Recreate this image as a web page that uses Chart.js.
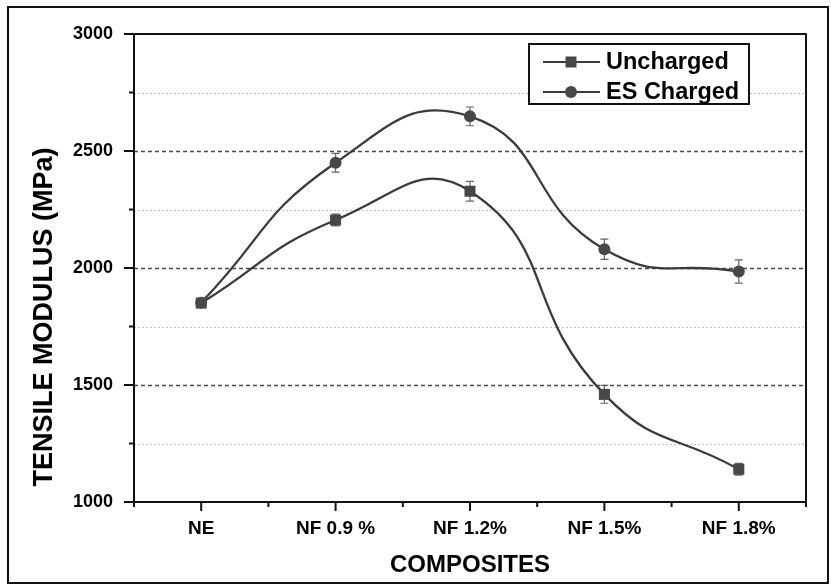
<!DOCTYPE html>
<html>
<head>
<meta charset="utf-8">
<script src="https://cdn.jsdelivr.net/npm/chart.js@4.4.0/dist/chart.umd.min.js"></script>
<style>
  html, body { margin: 0; padding: 0; background: #fff; }
  #wrap { width: 831px; height: 585px; }
</style>
</head>
<body>
<div id="wrap"><canvas id="modulusChart" width="831" height="585"></canvas></div>
<script>
// values
const categories = ['NE', 'NF 0.9 %', 'NF 1.2%', 'NF 1.5%', 'NF 1.8%'];
const unchargedValues = [1850, 2205, 2328, 1460, 1140];
const unchargedErrors = [15, 25, 42, 38, 25];
const chargedValues = [1852, 2450, 2648, 2080, 1985];
const chargedErrors = [15, 40, 40, 43, 50];
const seriesNames = ['Uncharged', 'ES Charged'];
const yMajorTicks = [1000, 1500, 2000, 2500, 3000];
const yMinorTicks = [1250, 1750, 2250, 2750];

const FONT = '"Liberation Sans", Arial, sans-serif';
const LINE_COLOR = '#3b3b3b';
const MARK_COLOR = '#474747';

function toPoints(values) {
    return values.map((v, i) => ({ x: i, y: v }));
}

function drawMarker(ctx, style, x, y) {
    ctx.fillStyle = MARK_COLOR;
    ctx.beginPath();
    if (style === 'rect') {
        ctx.rect(x - 5.5, y - 5.5, 11, 11);
    } else {
        ctx.arc(x, y, 6, 0, Math.PI * 2);
    }
    ctx.fill();
}

const decorations = {
    id: 'decorations',
    beforeDatasetsDraw(chart) {
        const { ctx, chartArea: a, scales: { x, y } } = chart;
        ctx.save();

        // minor grid: light dotted
        ctx.strokeStyle = '#c4c4c4';
        ctx.lineWidth = 1;
        ctx.setLineDash([2, 2]);
        yMinorTicks.forEach(v => {
            const py = Math.round(y.getPixelForValue(v)) + 0.5;
            ctx.beginPath();
            ctx.moveTo(a.left, py);
            ctx.lineTo(a.right, py);
            ctx.stroke();
        });

        // major grid: dark dashed
        ctx.strokeStyle = '#4a4a4a';
        ctx.lineWidth = 1.5;
        ctx.setLineDash([4, 3]);
        yMajorTicks.slice(1, -1).forEach(v => {
            const py = Math.round(y.getPixelForValue(v)) + 0.5;
            ctx.beginPath();
            ctx.moveTo(a.left, py);
            ctx.lineTo(a.right, py);
            ctx.stroke();
        });
        ctx.setLineDash([]);

        // error bars
        ctx.strokeStyle = '#666';
        ctx.lineWidth = 1.2;
        const series = [[unchargedValues, unchargedErrors], [chargedValues, chargedErrors]];
        series.forEach(([vals, errs]) => {
            vals.forEach((v, i) => {
                const px = x.getPixelForValue(i);
                const top = y.getPixelForValue(v + errs[i]);
                const bot = y.getPixelForValue(v - errs[i]);
                ctx.beginPath();
                ctx.moveTo(px, top);
                ctx.lineTo(px, bot);
                ctx.moveTo(px - 4, top);
                ctx.lineTo(px + 4, top);
                ctx.moveTo(px - 4, bot);
                ctx.lineTo(px + 4, bot);
                ctx.stroke();
            });
        });
        ctx.restore();
    },
    afterDraw(chart) {
        const { ctx, chartArea: a, scales: { x, y } } = chart;
        ctx.save();
        ctx.strokeStyle = '#111';
        ctx.lineWidth = 2;

        // plot box
        ctx.strokeRect(a.left, a.top, a.right - a.left, a.bottom - a.top);

        // y ticks (outward)
        yMajorTicks.forEach(v => {
            const py = y.getPixelForValue(v);
            ctx.beginPath(); ctx.moveTo(a.left - 10, py); ctx.lineTo(a.left, py); ctx.stroke();
        });
        yMinorTicks.forEach(v => {
            const py = y.getPixelForValue(v);
            ctx.beginPath(); ctx.moveTo(a.left - 5, py); ctx.lineTo(a.left, py); ctx.stroke();
        });

        // x ticks (outward)
        categories.forEach((c, i) => {
            const px = x.getPixelForValue(i);
            ctx.beginPath(); ctx.moveTo(px, a.bottom); ctx.lineTo(px, a.bottom + 9); ctx.stroke();
        });
        for (let i = -0.5; i <= categories.length - 0.5; i++) {
            const px = x.getPixelForValue(i);
            ctx.beginPath(); ctx.moveTo(px, a.bottom); ctx.lineTo(px, a.bottom + 5); ctx.stroke();
        }

        // outer frame
        ctx.strokeRect(8, 7, 820, 576);

        // axis titles
        ctx.fillStyle = '#000';
        ctx.textAlign = 'center';
        ctx.textBaseline = 'middle';
        ctx.font = 'bold 24px ' + FONT;
        ctx.fillText('COMPOSITES', (a.left + a.right) / 2, 565);
        ctx.save();
        ctx.translate(45, 317);
        ctx.rotate(-Math.PI / 2);
        ctx.font = 'bold 27px ' + FONT;
        ctx.fillText('TENSILE MODULUS (MPa)', 0, 0);
        ctx.restore();

        // legend
        ctx.fillStyle = '#fff';
        ctx.fillRect(529, 44, 220, 60);
        ctx.strokeRect(529, 44, 220, 60);
        const styles = ['rect', 'circle'];
        seriesNames.forEach((name, i) => {
            const ly = 62 + i * 30;
            ctx.strokeStyle = LINE_COLOR;
            ctx.lineWidth = 2;
            ctx.beginPath(); ctx.moveTo(543, ly); ctx.lineTo(600, ly); ctx.stroke();
            drawMarker(ctx, styles[i], 571, ly);
            ctx.fillStyle = '#000';
            ctx.textAlign = 'left';
            ctx.font = 'bold 23.5px ' + FONT;
            ctx.fillText(name, 606, ly + 1);
        });
        ctx.restore();
    }
};

function initModulusChart() {
    const ctx = document.getElementById('modulusChart').getContext('2d');

    new Chart(ctx, {
        type: 'line',
        data: {
            datasets: [{
                label: seriesNames[0],
                data: toPoints(unchargedValues),
                borderColor: LINE_COLOR,
                borderWidth: 2.3,
                pointStyle: 'rect',
                pointRadius: 7.8,
                pointBackgroundColor: MARK_COLOR,
                pointBorderColor: MARK_COLOR,
                pointBorderWidth: 0,
                tension: 0.5
            }, {
                label: seriesNames[1],
                data: toPoints(chargedValues),
                borderColor: LINE_COLOR,
                borderWidth: 2.3,
                pointStyle: 'circle',
                pointRadius: 6,
                pointBackgroundColor: MARK_COLOR,
                pointBorderColor: MARK_COLOR,
                pointBorderWidth: 0,
                tension: 0.5
            }]
        },
        options: {
            responsive: false,
            animation: false,
            devicePixelRatio: 1,
            layout: {
                padding: { left: 0, top: 34, right: 25, bottom: 0 }
            },
            plugins: {
                legend: { display: false },
                tooltip: { enabled: false }
            },
            scales: {
                x: {
                    type: 'linear',
                    min: -0.5,
                    max: categories.length - 0.5,
                    afterFit: s => { s.height = 83; },
                    border: { display: false },
                    grid: { display: true, drawOnChartArea: false, color: 'rgba(0,0,0,0)', tickLength: 8 },
                    ticks: {
                        stepSize: 0.5,
                        autoSkip: false,
                        maxRotation: 0,
                        padding: 7,
                        color: '#000',
                        font: { family: FONT, size: 19, weight: 'bold' },
                        callback: v => Number.isInteger(v) ? categories[v] : ''
                    }
                },
                y: {
                    min: 1000,
                    max: 3000,
                    afterFit: s => { s.width = 134; },
                    border: { display: false },
                    grid: { display: true, drawOnChartArea: false, color: 'rgba(0,0,0,0)', tickLength: 10 },
                    ticks: {
                        stepSize: 250,
                        padding: 11,
                        color: '#000',
                        font: { family: FONT, size: 18, weight: 'bold' },
                        callback: v => v % 500 === 0 ? v : ''
                    }
                }
            }
        },
        plugins: [decorations]
    });
}

document.addEventListener('DOMContentLoaded', initModulusChart);
</script>
</body>
</html>
